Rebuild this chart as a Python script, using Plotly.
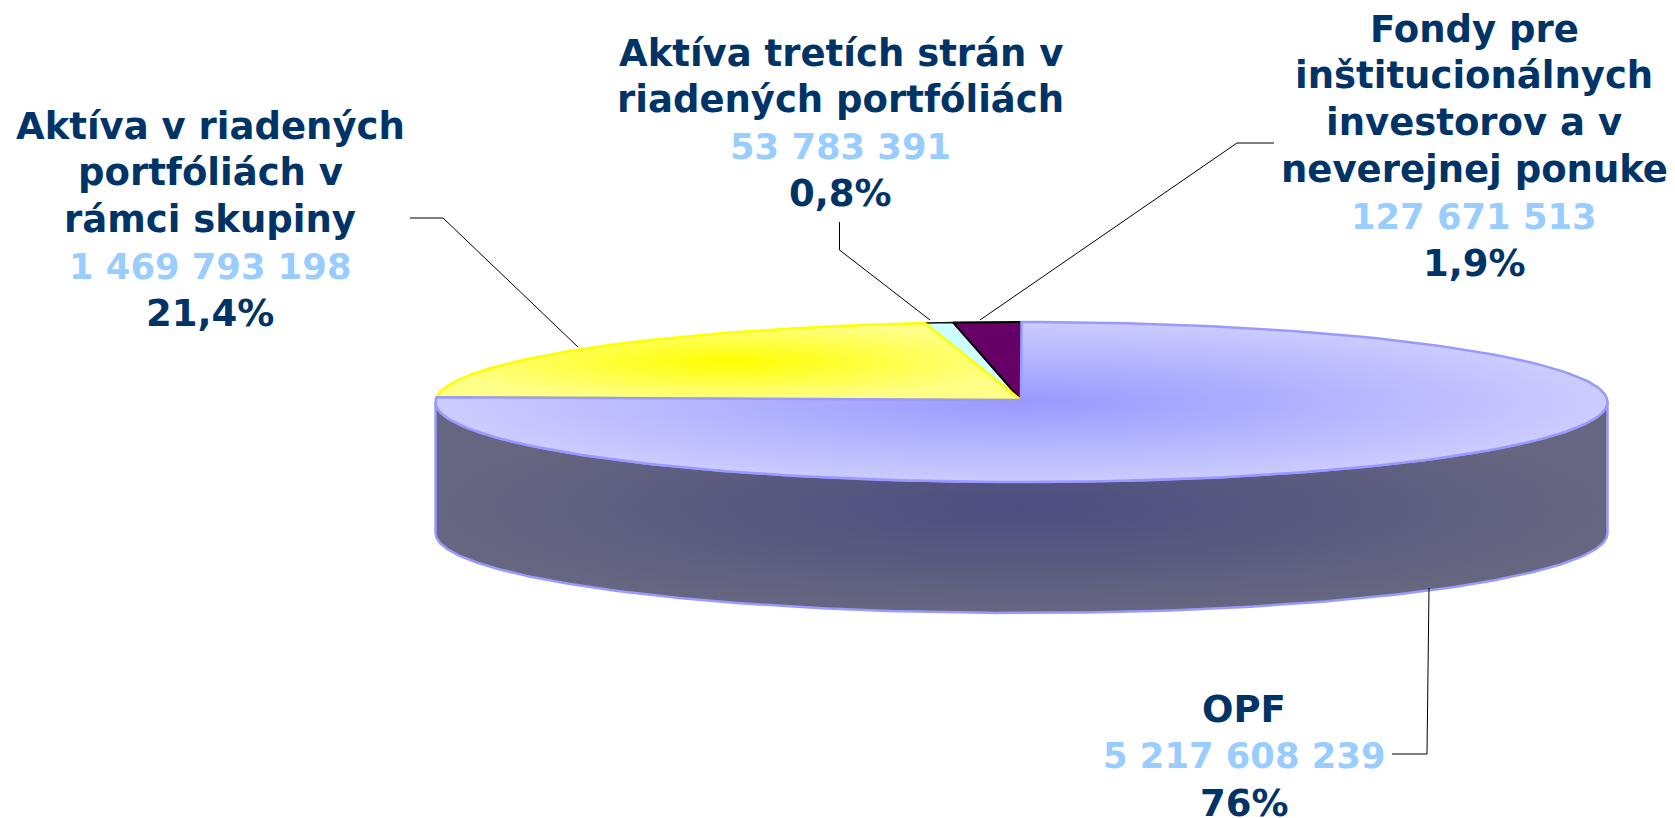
import numpy as np
import plotly.graph_objects as go

# ---- data ----
categories = ["OPF", "Aktíva v riadených<br>portfóliách v<br>rámci skupiny",
              "Aktíva tretích strán v<br>riadených portfóliách",
              "Fondy pre<br>inštitucionálnych<br>investorov a v<br>neverejnej ponuke"]
values = [5217608239, 1469793198, 53783391, 127671513]
percent_labels = ["76%", "21,4%", "0,8%", "1,9%"]

# ---- pixel-scale geometry of the pseudo-3D pie ----
W, H = 1675, 818
CX, CY, RX, RY = 1021.5, 402.0, 586.0, 80.0
APEX = (1021.0, 400.0)
DEPTH = 131.0
DARK, VALUE = "#003366", "#99CCFF"
FONT = "DejaVu Sans"
FONT_SIZE = 37
VALUE_SIZE = 35.3
LINE_STEP = 46.8

total = sum(values)
edges = np.cumsum([0] + values) / total * 2 * np.pi


def rim(a0, a1, n=160):
    t = np.linspace(a0, a1, n)
    return CX + RX * np.sin(t), CY - RY * np.cos(t)


def slice_xy(a0, a1):
    x, y = rim(a0, a1)
    return [APEX[0], *x, APEX[0]], [APEX[1], *y, APEX[1]]


fig = go.Figure()


def add_poly(x, y, line_color, line_width, fill=None, grad=None):
    kw = dict(fillgradient=dict(type="radial", colorscale=grad)) if grad else dict(fillcolor=fill)
    fig.add_trace(go.Scatter(x=x, y=y, mode="lines", fill="toself", hoverinfo="skip",
                             line=dict(color=line_color, width=line_width), **kw))


# front wall of the disc
wx, wy = rim(np.pi / 2, 3 * np.pi / 2, 240)
add_poly([*wx, *wx[::-1], wx[0]], [*wy, *(wy[::-1] + DEPTH), wy[0]], "#9999FF", 2.5,
         grad=[[0, "#4D4D80"], [1, "#666680"]])

# top faces: later drawn over earlier exactly as in the source
sx, sy = slice_xy(edges[2], edges[3])
add_poly(sx, sy, "#111111", 1.5, fill="#CCFFFF")
sx, sy = slice_xy(edges[3], edges[4])
add_poly(sx, sy, "#000000", 2, fill="#660066")
sx, sy = slice_xy(edges[1], edges[2])
add_poly(sx, sy, "#FFFF00", 2.5, grad=[[0, "#FFFF00"], [1, "#FFFF88"]])
sx, sy = slice_xy(edges[0], edges[1])
add_poly(sx, sy, "#9999FF", 2.5, grad=[[0, "#9999FF"], [1, "#CCCCFF"]])

# leader lines
leaders = [
    ([1392, 1427, 1429], [754, 754, 588]),
    ([410, 443, 578], [218, 218, 347]),
    ([839.5, 839.5, 930], [222, 250, 320]),
    ([1274, 1237, 980], [143, 143, 320]),
]
for lx, ly in leaders:
    fig.add_trace(go.Scatter(x=lx, y=ly, mode="lines", hoverinfo="skip",
                             line=dict(color="#000000", width=1)))

# labels: one annotation per text line so the spacing can follow the source
first_line = [(1244, 709), (210, 126), (840.5, 53), (1474, 29)]
for name, val, pct, (ax, ay) in zip(categories, values, percent_labels, first_line):
    s = f"{val:,}".replace(",", " ")
    lines = [(t, DARK, FONT_SIZE) for t in name.split("<br>")] + [(s, VALUE, VALUE_SIZE), (pct, DARK, FONT_SIZE)]
    for i, (txt, col, size) in enumerate(lines):
        y = ay + i * LINE_STEP
        extra = dict(height=30) if y + size * 0.65 > H else {}
        fig.add_annotation(x=ax, y=y, text=f"<b>{txt}</b>", showarrow=False,
                           xanchor="center", yanchor="middle",
                           font=dict(family=FONT, size=size, color=col), **extra)

fig.update_layout(width=W, height=H, margin=dict(l=0, r=0, t=0, b=0), showlegend=False,
                  paper_bgcolor="white", plot_bgcolor="white",
                  xaxis=dict(range=[0, W], visible=False),
                  yaxis=dict(range=[H, 0], visible=False))

fig.write_html("out.html", config={"displayModeBar": False},
               post_script="document.body.style.margin='0';document.body.style.overflow='hidden';")
